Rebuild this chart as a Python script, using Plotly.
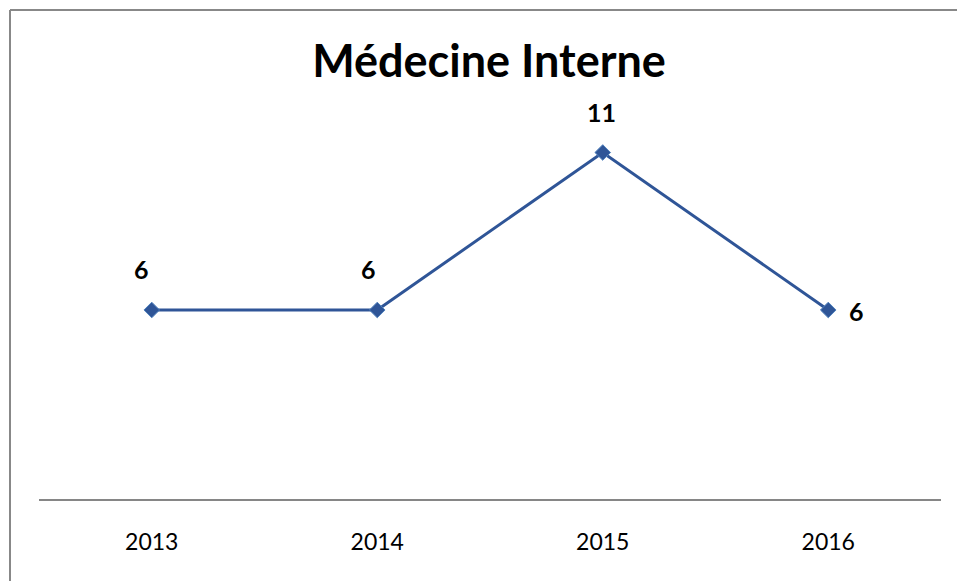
import plotly.graph_objects as go

years = ["2013", "2014", "2015", "2016"]
values = [6, 6, 11, 6]
title_text = "Médecine Interne"

# label placement (style): pixel offsets from each point
label_dx = [-10, -9, -1, 28]
label_dy = [41, 41, 41, -1]

W, H = 957, 581
L, T = 39, 121
R = W - 941
B = H - 499
pw, ph = W - L - R, H - T - B

fig = go.Figure()
fig.add_trace(go.Scatter(
    x=years, y=values, mode="lines+markers",
    line=dict(color="#2F5597", width=3),
    marker=dict(symbol="diamond", size=12, color="#2F5597",
                line=dict(color="#4F81BD", width=1)),
    hoverinfo="skip", showlegend=False,
))

annotations = []
for i, v in enumerate(values):
    annotations.append(dict(x=i, y=v, xref="x", yref="y", text=f"<b>{v}</b>",
                            showarrow=False, xshift=label_dx[i], yshift=label_dy[i],
                            font=dict(family="Lato", size=25, color="black")))

def px_x(p):
    return (p - L) / pw

def px_y(p):
    return (H - B - p) / ph

border = dict(color="#888888", width=2)
fig.update_layout(
    width=W, height=H,
    margin=dict(l=L, r=R, t=T, b=B),
    paper_bgcolor="white", plot_bgcolor="white",
    title=dict(text=f"<b>{title_text}</b>", x=489 / W, xanchor="center",
               y=1 - 61 / H, yanchor="middle", yref="container",
               font=dict(family="Lato", size=45, color="black")),
    xaxis=dict(type="category", range=[-0.5, 3.5], showgrid=False,
               showline=True, linecolor="#868686", linewidth=2,
               ticks="", ticklabelstandoff=21,
               tickfont=dict(family="Lato", size=23, color="black"),
               zeroline=False),
    yaxis=dict(range=[0, 12], showgrid=False, showline=False,
               showticklabels=False, zeroline=False, ticks=""),
    annotations=annotations,
    shapes=[
        dict(type="line", xref="paper", yref="paper",
             x0=px_x(10), x1=px_x(990), y0=px_y(10), y1=px_y(10),
             line=border, layer="below"),
        dict(type="line", xref="paper", yref="paper",
             x0=px_x(10), x1=px_x(10), y0=px_y(10), y1=px_y(620),
             line=border, layer="below"),
    ],
)

fig.write_html(
    "out.html",
    config={"displayModeBar": False},
    post_script=(
        "document.documentElement.style.margin='0';"
        "document.documentElement.style.overflow='hidden';"
        "document.body.style.margin='0';"
        "document.body.style.overflow='hidden';"
    ),
)
